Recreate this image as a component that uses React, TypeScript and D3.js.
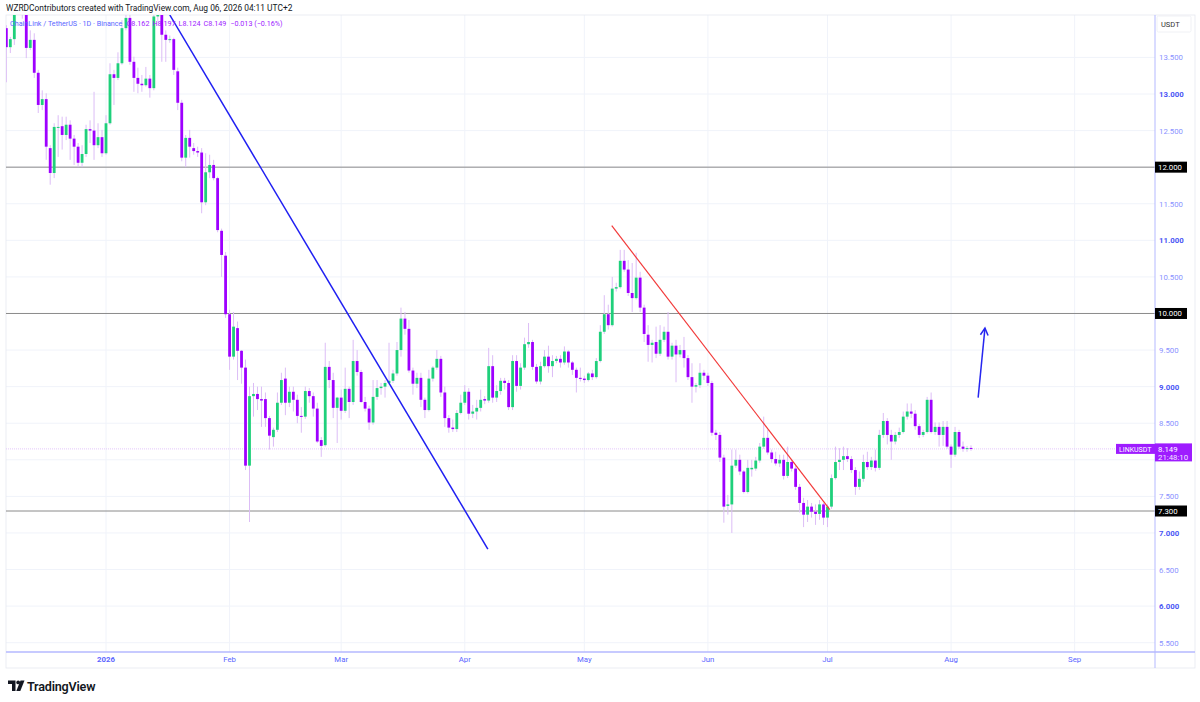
import React from "react";
import * as d3 from "d3";

// ---- data (daily LINK/USDT candles, starting 2025-12-07) ----
const startDate = Date.UTC(2025, 11, 7);
const endDate = Date.UTC(2026, 7, 6);

const opens = [
  13.90, 13.64, 13.75, 14.15, 14.32, 14.08, 13.63, 13.74, 13.29, 12.85,
  12.93, 12.26, 11.92, 12.54, 12.56, 12.44, 12.58, 12.39, 12.28, 12.06,
  12.18, 12.52, 12.50, 12.30, 12.41, 12.19, 12.60, 13.27, 13.22, 13.42,
  13.90, 14.04, 13.44, 13.22, 13.14, 13.12, 13.21, 13.08, 14.06, 14.09,
  13.81, 13.74, 13.75, 13.31, 12.88, 12.13, 12.40, 12.26, 12.22, 12.20,
  11.52, 11.93, 12.03, 11.85, 11.13, 10.79, 9.99, 9.41, 9.80, 9.49,
  9.26, 7.92, 8.87, 8.90, 8.83, 8.83, 8.57, 8.31, 8.41, 8.78,
  9.11, 8.78, 8.93, 8.82, 8.60, 8.59, 8.94, 8.87, 8.70, 8.27,
  8.20, 9.27, 9.09, 8.71, 8.85, 8.67, 8.97, 8.79, 9.35, 9.20,
  8.79, 8.70, 8.51, 8.86, 8.98, 9.00, 9.05, 9.08, 9.18, 9.50,
  9.93, 9.79, 9.22, 9.04, 9.12, 8.82, 8.68, 9.11, 9.26, 9.38,
  8.92, 8.57, 8.44, 8.42, 8.64, 8.78, 8.93, 8.63, 8.66, 8.71,
  8.83, 8.81, 9.28, 8.85, 8.94, 9.08, 9.05, 8.72, 9.35, 9.01,
  9.26, 9.58, 9.61, 9.27, 9.07, 9.28, 9.41, 9.28, 9.35, 9.38,
  9.33, 9.48, 9.33, 9.23, 9.12, 9.11, 9.09, 9.18, 9.13, 9.35,
  9.75, 9.99, 9.84, 10.34, 10.36, 10.72, 10.60, 10.28, 10.21, 10.49,
  10.08, 9.71, 9.57, 9.61, 9.45, 9.64, 9.75, 9.41, 9.56, 9.44,
  9.50, 9.39, 9.13, 9.00, 9.02, 9.19, 9.15, 9.05, 8.37, 8.34,
  8.03, 7.37, 7.39, 7.92, 8.00, 7.84, 7.56, 7.87, 7.88, 7.99,
  8.18, 8.30, 8.10, 8.01, 7.95, 8.00, 7.78, 7.97, 7.88, 7.63,
  7.41, 7.25, 7.36, 7.29, 7.26, 7.39, 7.21, 7.36, 7.75, 7.97,
  8.00, 8.05, 8.01, 7.86, 7.63, 7.74, 7.97, 7.90, 7.99, 7.89,
  8.34, 8.53, 8.34, 8.25, 8.34, 8.38, 8.59, 8.66, 8.63, 8.46,
  8.34, 8.38, 8.82, 8.38, 8.45, 8.34, 8.45, 8.18, 8.07, 8.38,
  8.18, 8.15, 8.162,
];

const highs = [
  13.94, 13.78, 14.20, 14.45, 14.40, 14.15, 13.87, 13.83, 13.33, 13.05,
  13.01, 12.30, 12.60, 12.71, 12.69, 12.69, 12.64, 12.44, 12.33, 12.30,
  12.58, 12.64, 13.03, 12.60, 12.51, 12.71, 13.42, 13.33, 13.57, 14.01,
  14.08, 14.08, 13.51, 13.36, 13.26, 13.37, 13.26, 14.25, 14.20, 14.15,
  13.87, 13.80, 13.77, 13.36, 12.92, 12.44, 12.51, 12.33, 12.28, 12.26,
  12.19, 12.17, 12.10, 11.87, 11.16, 10.84, 10.05, 10.02, 9.89, 9.50,
  9.37, 9.00, 9.05, 9.00, 9.00, 8.92, 8.60, 8.44, 8.92, 9.19,
  9.26, 9.00, 9.00, 8.89, 8.72, 9.00, 8.98, 8.92, 8.78, 8.31,
  9.60, 9.35, 9.19, 8.86, 8.96, 9.26, 9.00, 9.64, 9.50, 9.23,
  8.86, 8.74, 9.09, 9.09, 9.05, 9.09, 9.60, 9.23, 9.61, 10.08,
  10.02, 9.91, 9.26, 9.19, 9.19, 8.85, 9.23, 9.28, 9.50, 9.42,
  9.00, 8.61, 8.55, 8.68, 8.89, 9.02, 8.98, 8.75, 8.82, 8.96,
  8.87, 9.53, 9.43, 9.02, 9.12, 9.12, 9.09, 9.43, 9.43, 9.32,
  9.67, 9.87, 9.64, 9.31, 9.34, 9.50, 9.56, 9.43, 9.42, 9.43,
  9.55, 9.50, 9.35, 9.26, 9.26, 9.15, 9.20, 9.23, 9.39, 9.84,
  10.25, 10.12, 10.50, 10.42, 10.87, 10.87, 10.73, 10.69, 10.83, 10.57,
  10.12, 9.84, 9.64, 9.82, 9.84, 9.82, 10.02, 9.60, 9.64, 9.57,
  9.68, 9.43, 9.32, 9.05, 9.32, 9.23, 9.19, 9.08, 8.41, 8.38,
  8.07, 7.52, 8.14, 8.14, 8.07, 7.86, 8.00, 8.00, 8.04, 8.23,
  8.59, 8.41, 8.14, 8.11, 8.07, 8.07, 8.18, 8.00, 7.92, 7.67,
  7.48, 7.45, 7.41, 7.39, 7.45, 7.41, 7.39, 7.80, 8.18, 8.16,
  8.18, 8.16, 8.05, 7.90, 7.84, 8.07, 8.11, 8.04, 8.14, 8.41,
  8.64, 8.57, 8.41, 8.38, 8.44, 8.66, 8.77, 8.77, 8.68, 8.49,
  8.41, 8.86, 8.92, 8.51, 8.51, 8.53, 8.53, 8.21, 8.45, 8.41,
  8.25, 8.19, 8.197,
];

const lows = [
  13.16, 13.56, 13.67, 14.10, 14.03, 13.49, 13.60, 13.22, 12.74, 12.78,
  12.10, 11.76, 11.85, 12.14, 12.24, 12.37, 12.10, 12.03, 12.00, 12.00,
  12.14, 12.33, 12.10, 12.26, 12.14, 12.17, 12.58, 12.85, 13.19, 13.40,
  13.87, 13.40, 13.03, 13.01, 13.03, 13.10, 12.95, 13.05, 14.00, 13.44,
  13.44, 13.70, 13.26, 12.78, 12.08, 12.00, 12.13, 12.17, 12.14, 11.37,
  11.48, 11.85, 11.82, 11.11, 10.50, 9.94, 9.23, 9.37, 9.09, 9.04,
  7.86, 7.15, 8.59, 8.68, 8.45, 8.45, 8.14, 8.18, 8.38, 8.75,
  8.61, 8.72, 8.66, 8.50, 8.37, 8.56, 8.78, 8.59, 8.23, 8.04,
  8.18, 8.98, 8.57, 8.23, 8.55, 8.64, 8.57, 8.75, 9.15, 8.78,
  8.66, 8.41, 8.48, 8.82, 8.89, 8.85, 9.03, 9.05, 9.15, 9.41,
  9.71, 9.19, 8.89, 8.98, 8.72, 8.57, 8.66, 9.07, 9.23, 8.86,
  8.45, 8.37, 8.38, 8.38, 8.62, 8.75, 8.55, 8.57, 8.55, 8.66,
  8.76, 8.78, 8.78, 8.79, 8.89, 8.96, 8.68, 8.68, 8.93, 8.96,
  9.23, 9.53, 9.23, 9.04, 9.03, 9.26, 9.19, 9.13, 9.32, 9.26,
  9.30, 9.26, 9.16, 8.92, 9.07, 9.05, 9.07, 9.09, 9.11, 9.33,
  9.72, 9.78, 9.82, 10.30, 10.34, 10.57, 10.24, 10.02, 10.19, 10.02,
  9.61, 9.34, 9.33, 9.39, 9.42, 9.61, 9.37, 9.37, 9.06, 9.40,
  9.26, 9.09, 8.78, 8.92, 8.98, 9.09, 9.01, 8.33, 8.27, 7.97,
  7.14, 7.25, 7.00, 7.89, 7.79, 7.54, 7.54, 7.77, 7.85, 7.96,
  8.15, 8.07, 7.96, 7.92, 7.90, 7.73, 7.75, 7.84, 7.59, 7.28,
  7.08, 7.15, 7.21, 7.11, 7.18, 7.11, 7.08, 7.33, 7.73, 7.86,
  7.86, 7.97, 7.82, 7.52, 7.59, 7.70, 7.86, 7.86, 7.84, 7.86,
  8.30, 8.21, 8.00, 8.21, 8.30, 8.36, 8.55, 8.57, 8.41, 8.30,
  8.31, 8.36, 8.36, 8.34, 8.18, 8.19, 8.15, 7.89, 8.04, 8.15,
  8.11, 8.11, 8.124,
];

const closes = [
  13.64, 13.75, 14.15, 14.32, 14.08, 13.63, 13.74, 13.29, 12.85, 12.93,
  12.28, 11.92, 12.55, 12.55, 12.44, 12.58, 12.39, 12.28, 12.06, 12.18,
  12.52, 12.50, 12.30, 12.41, 12.19, 12.60, 13.27, 13.22, 13.42, 13.90,
  14.04, 13.44, 13.22, 13.14, 13.12, 13.21, 13.08, 14.06, 14.09, 13.81,
  13.74, 13.75, 13.33, 12.88, 12.13, 12.40, 12.28, 12.22, 12.20, 11.52,
  11.93, 12.03, 11.85, 11.14, 10.80, 9.99, 9.41, 9.82, 9.49, 9.26,
  7.92, 8.87, 8.90, 8.83, 8.81, 8.57, 8.33, 8.41, 8.78, 9.09,
  8.78, 8.93, 8.82, 8.60, 8.59, 8.94, 8.87, 8.70, 8.25, 8.19,
  9.27, 9.09, 8.71, 8.85, 8.67, 8.97, 8.79, 9.35, 9.20, 8.79,
  8.70, 8.51, 8.86, 8.98, 9.00, 9.05, 9.08, 9.18, 9.50, 9.93,
  9.79, 9.22, 9.04, 9.12, 8.82, 8.68, 9.11, 9.26, 9.38, 8.92,
  8.57, 8.44, 8.42, 8.64, 8.78, 8.93, 8.63, 8.66, 8.71, 8.82,
  8.81, 9.28, 8.85, 8.94, 9.08, 9.05, 8.72, 9.35, 9.01, 9.26,
  9.58, 9.61, 9.27, 9.07, 9.28, 9.41, 9.28, 9.35, 9.38, 9.33,
  9.48, 9.33, 9.23, 9.12, 9.11, 9.09, 9.18, 9.13, 9.35, 9.75,
  9.99, 9.84, 10.34, 10.36, 10.72, 10.60, 10.28, 10.21, 10.49, 10.08,
  9.72, 9.57, 9.60, 9.45, 9.64, 9.75, 9.41, 9.56, 9.44, 9.50,
  9.39, 9.13, 9.00, 9.02, 9.19, 9.15, 9.05, 8.37, 8.34, 8.03,
  7.36, 7.39, 7.92, 8.00, 7.84, 7.56, 7.89, 7.89, 7.99, 8.18,
  8.30, 8.10, 8.01, 7.95, 8.00, 7.78, 7.97, 7.88, 7.63, 7.41,
  7.25, 7.36, 7.29, 7.26, 7.39, 7.21, 7.36, 7.75, 7.97, 8.00,
  8.05, 8.01, 7.86, 7.63, 7.74, 7.97, 7.90, 7.99, 7.89, 8.34,
  8.53, 8.34, 8.25, 8.34, 8.38, 8.59, 8.66, 8.63, 8.46, 8.34,
  8.38, 8.82, 8.38, 8.45, 8.34, 8.45, 8.18, 8.07, 8.38, 8.18,
  8.15, 8.16, 8.149,
];

const priceTicks = [5.5, 6, 6.5, 7, 7.5, 8, 8.5, 9, 9.5, 10, 10.5, 11, 11.5, 12, 12.5, 13, 13.5];
const levelLines = [12, 10, 7.3];
const lastPrice = 8.149;
const lastChange = "−0.013 (−0.16%)";
const countdown = "21:48:10";
const symbolName = "LINKUSDT";

// drawings: [date, price]
const blueTrend: [string, number][] = [["2026-01-17T00:00:00Z", 14.08], ["2026-04-06T19:00:00Z", 6.78]];
const redTrend: [string, number][] = [["2026-05-07T21:00:00Z", 11.2], ["2026-07-01T14:00:00Z", 7.32]];
const arrowLine: [string, number][] = [["2026-08-07T19:00:00Z", 8.85], ["2026-08-09T12:00:00Z", 9.8]];

const UP = "#1fd07b";
const DOWN = "#9e00ff";
const WICK = "#dcbdf6";
const AXIS_TXT = "#5b66ff";
const FONT = "Roboto, 'Noto Sans', sans-serif";

const PANE = { left: 6, right: 1155, top: 15, bottom: 652 };

export default function App() {
  const x = d3.scaleUtc().domain([startDate, endDate]).range([6.35, 971]);
  const y = d3.scaleLinear().domain([5.5, 13]).range([642.7, 94]);
  const dayMs = 86400000;

  const candles = closes.map((c, i) => ({
    date: new Date(startDate + i * dayMs),
    o: opens[i], h: highs[i], l: lows[i], c,
  }));

  const months = d3.utcMonth.range(new Date(Date.UTC(2026, 0, 1)), new Date(Date.UTC(2026, 8, 2)));
  const fmtMonth = d3.utcFormat("%b");
  const fmtPrice = d3.format(".3f");
  const line = d3.line<[string, number]>().x((d) => x(new Date(d[0]))).y((d) => y(d[1]));

  const bw = 2.8;
  const ax0 = x(new Date(arrowLine[0][0])), ay0 = y(arrowLine[0][1]);
  const ax1 = x(new Date(arrowLine[1][0])), ay1 = y(arrowLine[1][1]);
  const ang = Math.atan2(ay1 - ay0, ax1 - ax0);
  const ah = 8;
  const head = [
    [ax1 - ah * Math.cos(ang - 0.5), ay1 - ah * Math.sin(ang - 0.5)],
    [ax1, ay1],
    [ax1 - ah * Math.cos(ang + 0.5), ay1 - ah * Math.sin(ang + 0.5)],
  ];

  const yl = y(lastPrice);
  // axis tick labels hidden behind the label boxes are not drawn
  const covered = (p: number) =>
    levelLines.some((l) => Math.abs(y(l) - y(p)) < 8) || (y(p) > yl - 9 && y(p) < yl + 16);

  return (
    <div style={{ position: "fixed", left: 0, top: 0, width: 1200, height: 702, background: "#fff" }}>
      <svg width={1200} height={702} style={{ display: "block", fontFamily: FONT }}>
        <defs>
          <clipPath id="pane">
            <rect x={PANE.left} y={PANE.top} width={PANE.right - PANE.left} height={PANE.bottom - PANE.top} />
          </clipPath>
        </defs>
        <rect x={0} y={0} width={1200} height={702} fill="#fff" />

        {/* grid */}
        <g clipPath="url(#pane)">
          {priceTicks.map((p) => (
            <line key={"g" + p} x1={PANE.left} x2={PANE.right} y1={y(p)} y2={y(p)} stroke="#f0f3fa" strokeWidth={1} />
          ))}
          {months.map((m) => (
            <line key={"v" + m.getTime()} x1={x(m)} x2={x(m)} y1={PANE.top} y2={PANE.bottom} stroke="#f0f3fa" strokeWidth={1} />
          ))}
        </g>

        {/* frame */}
        <rect x={PANE.left} y={PANE.top} width={1195 - PANE.left} height={668 - PANE.top} fill="none" stroke="#e6e8ef" strokeWidth={0.8} />

        <g clipPath="url(#pane)">
          {/* current price line */}
          <line x1={PANE.left} x2={PANE.right} y1={yl} y2={yl} stroke="#e3c6fb" strokeWidth={1} strokeDasharray="1 1" />
          {/* horizontal levels */}
          {levelLines.map((p) => (
            <line key={"l" + p} x1={PANE.left} x2={PANE.right} y1={y(p)} y2={y(p)} stroke="#8a8a8a" strokeWidth={1} />
          ))}
          {/* candles */}
          {candles.map((d, i) => {
            const cx = x(d.date);
            const top = y(Math.max(d.o, d.c));
            const bot = y(Math.min(d.o, d.c));
            const up = d.c >= d.o;
            return (
              <g key={i}>
                <line x1={cx} x2={cx} y1={y(Math.max(d.h, d.o, d.c))} y2={y(Math.min(d.l, d.o, d.c))} stroke={WICK} strokeWidth={1} />
                <rect x={cx - bw / 2} y={top} width={bw} height={Math.max(1, bot - top)} fill={up ? UP : DOWN} />
              </g>
            );
          })}
          {/* drawings */}
          <path d={line(blueTrend) || ""} stroke="#1f1ff2" strokeWidth={1.5} fill="none" />
          <path d={line(redTrend) || ""} stroke="#f23a3a" strokeWidth={1.2} fill="none" />
          <path d={line(arrowLine) || ""} stroke="#2626f0" strokeWidth={1.5} fill="none" />
          <polyline points={head.map((p) => p.join(",")).join(" ")} stroke="#2626f0" strokeWidth={1.5} fill="none" />
        </g>

        {/* axes lines */}
        <line x1={PANE.right} x2={PANE.right} y1={PANE.top} y2={668} stroke="#b4b9ff" strokeWidth={1} />
        <line x1={PANE.left} x2={1195} y1={PANE.bottom} y2={PANE.bottom} stroke="#b4b9ff" strokeWidth={1.5} />

        {/* price axis labels */}
        {priceTicks.filter((p) => !covered(p)).map((p) => (
          <text key={"t" + p} x={1159} y={y(p) + 3} fontSize={7.8} fill={Number.isInteger(p) ? "#4a55f5" : "#8a92ff"} fontWeight={Number.isInteger(p) ? 700 : 400}>
            {fmtPrice(p)}
          </text>
        ))}

        {/* USDT box */}
        <rect x={1157} y={16} width={34} height={16} fill="#fff" stroke="#eceef3" strokeWidth={0.8} rx={1.5} />
        <text x={1161} y={27} fontSize={7.5} fill="#333">USDT</text>

        {/* level labels */}
        {levelLines.map((p) => (
          <g key={"lb" + p}>
            <rect x={PANE.right} y={y(p) - 5.5} width={32} height={11} fill="#000" />
            <text x={PANE.right + 3} y={y(p) + 3} fontSize={7.8} fill="#fff">{fmtPrice(p)}</text>
          </g>
        ))}

        {/* last price labels */}
        <rect x={1116} y={yl - 5} width={PANE.right - 1116} height={10} fill="#9e1cff" />
        <text x={1119} y={yl + 2.8} fontSize={7} fill="#fff">{symbolName}</text>
        <rect x={PANE.right} y={yl - 5.5} width={37} height={18} fill="#9e1cff" />
        <text x={PANE.right + 3} y={yl + 3} fontSize={7.8} fill="#fff">{fmtPrice(lastPrice)}</text>
        <text x={PANE.right + 3} y={yl + 11} fontSize={7.8} fill="#f3e6ff">{countdown}</text>

        {/* time axis labels */}
        {months.map((m) => {
          const isYear = m.getUTCMonth() === 0;
          return (
            <text key={"m" + m.getTime()} x={x(m)} y={662} fontSize={7.8} textAnchor="middle" fill={AXIS_TXT} fontWeight={isYear ? 700 : 400}>
              {isYear ? String(m.getUTCFullYear()) : fmtMonth(m)}
            </text>
          );
        })}

        {/* header */}
        <text x={6} y={11} fontSize={8.4} fill="#131722">
          WZRDContributors created with TradingView.com, Aug 06, 2026 04:11 UTC+2
        </text>
        <text x={10} y={26} fontSize={7.2}>
          <tspan fill="#5b66ff">ChainLink / TetherUS · 1D · Binance</tspan>
          <tspan fill="#9e1cff" dx={4}>{"O" + opens[opens.length - 1].toFixed(3)}</tspan>
          <tspan fill="#9e1cff" dx={3}>{"H" + highs[highs.length - 1].toFixed(3)}</tspan>
          <tspan fill="#9e1cff" dx={3}>{"L" + lows[lows.length - 1].toFixed(3)}</tspan>
          <tspan fill="#9e1cff" dx={3}>{"C" + closes[closes.length - 1].toFixed(3)}</tspan>
          <tspan fill="#9e1cff" dx={4}>{lastChange}</tspan>
        </text>

        {/* TradingView logo */}
        <g fill="#131722">
          <path d="M8 680.5 H15.5 V691 H12 V684 H8 Z" />
          <circle cx={18.2} cy={682.4} r={1.9} />
          <path d="M20.5 680.5 H24.5 L20.3 691 H16.3 Z" />
        </g>
        <text x={27} y={690.5} fontSize={12.6} fontWeight={600} fill="#131722" letterSpacing={-0.2}>TradingView</text>
      </svg>
    </div>
  );
}
